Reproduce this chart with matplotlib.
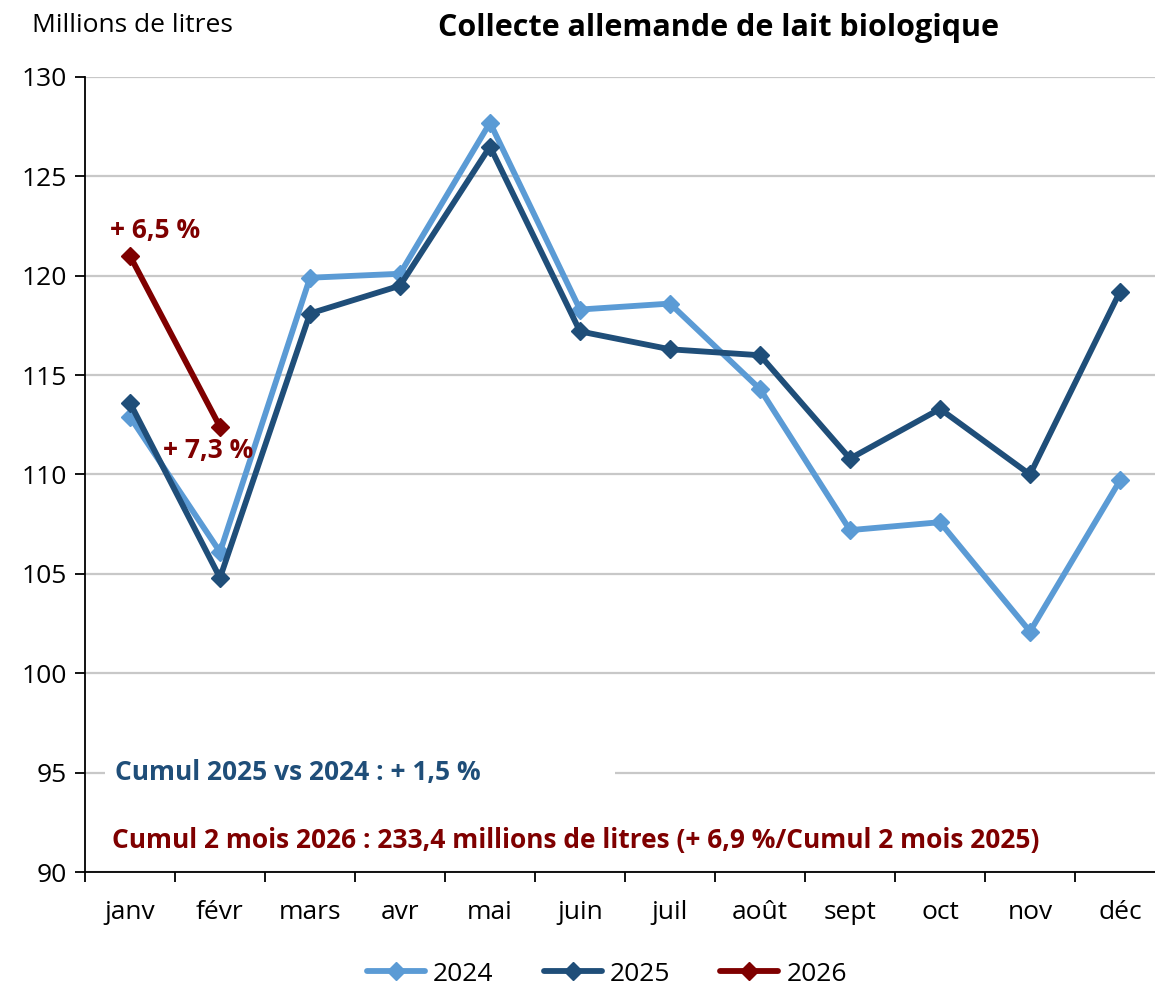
import matplotlib
matplotlib.use("Agg")
from matplotlib import pyplot as plt

plt.rcParams['font.family'] = ['Open Sans', 'DejaVu Sans']

months = ["janv", "févr", "mars", "avr", "mai", "juin", "juil", "août", "sept", "oct", "nov", "déc"]
collecte_2024 = [112.9, 106.1, 119.9, 120.1, 127.7, 118.3, 118.6, 114.3, 107.2, 107.6, 102.1, 109.7]
collecte_2025 = [113.6, 104.8, 118.1, 119.5, 126.5, 117.2, 116.3, 116.0, 110.8, 113.3, 110.0, 119.2]
collecte_2026 = [121.0, 112.4]
labels_2026 = ["+ 6,5 %", "+ 7,3 %"]

c24 = "#5b9bd5"
c25 = "#1f4e79"
c26 = "#7f0000"

fig = plt.figure(figsize=(11.55, 9.88), dpi=100)
ax = fig.add_axes([85 / 1155, 1 - 872 / 988, 1080 / 1155, (872 - 77) / 988])

x = list(range(len(months)))
style = dict(lw=4.2, marker="D", markersize=9.5, solid_capstyle="round")
ax.plot(x, collecte_2024, color=c24, label="2024", zorder=3, **style)
ax.plot(x, collecte_2025, color=c25, label="2025", zorder=4, **style)
ax.plot(x[:2], collecte_2026, color=c26, label="2026", zorder=5, **style)

# labels of 2026 evolution
ax.text(0.28, collecte_2026[0] + 0.6, labels_2026[0], color=c26, fontsize=19,
        fontweight="bold", ha="center", va="bottom")
ax.text(0.87, collecte_2026[1] - 0.5, labels_2026[1], color=c26, fontsize=19,
        fontweight="bold", ha="center", va="top")

ax.set_xlim(-0.5, 11.5)
ax.set_ylim(90, 130)
ax.set_yticks(range(90, 131, 5))
ax.set_xticks(x)
ax.set_xticklabels(months)
ax.set_xticks([i - 0.5 for i in range(13)], minor=True)
ax.tick_params(axis="x", which="major", length=0, pad=20, labelsize=19)
ax.tick_params(axis="x", which="minor", length=7, width=1.3, direction="out")
ax.tick_params(axis="y", length=7, width=1.3, labelsize=19, pad=6)
ax.grid(axis="y", color="#c8c8c8", lw=1.6)
ax.set_axisbelow(True)
for s in ["top", "right"]:
    ax.spines[s].set_visible(False)
ax.spines["left"].set_linewidth(1.3)
ax.spines["bottom"].set_linewidth(1.3)

# white band hiding the gridline behind the first note
ax.hlines(95, 20 / 1080, 530 / 1080, transform=ax.get_yaxis_transform(), color="white",
          lw=6, zorder=1)
ax.text(30 / 1080, 95, "Cumul 2025 vs 2024 : + 1,5 %", transform=ax.get_yaxis_transform(),
        color=c25, fontsize=19, fontweight="bold", va="center", zorder=2)
ax.text(27 / 1080, 91.6, "Cumul 2 mois 2026 : 233,4 millions de litres (+ 6,9 %/Cumul 2 mois 2025)",
        transform=ax.get_yaxis_transform(), color=c26, fontsize=19, fontweight="bold",
        va="center")

fig.text(32 / 1155, 1 - 25 / 988, "Millions de litres", fontsize=19, va="center")
fig.text(719 / 1155, 1 - 28 / 988, "Collecte allemande de lait biologique", fontsize=22,
         fontweight="bold", ha="center", va="center")

fig.legend(loc="center", bbox_to_anchor=(607 / 1155, 1 - 974 / 988), ncol=3, frameon=False,
           fontsize=19, handlelength=2.2, columnspacing=1.9, handletextpad=0.3)

fig.savefig("out.png", dpi=100)
